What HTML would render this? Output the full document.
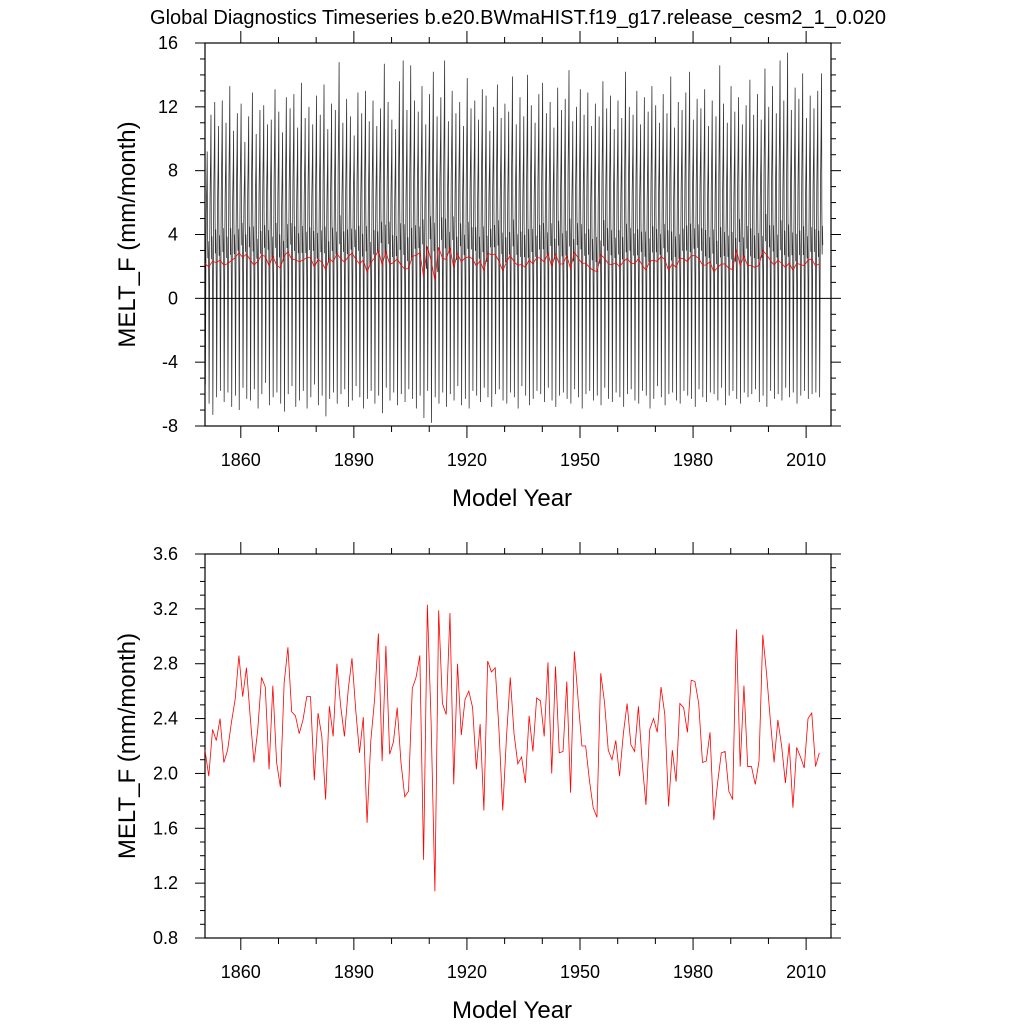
<!DOCTYPE html>
<html><head><meta charset="utf-8"><style>
body{margin:0;background:#fff;width:1024px;height:1024px;overflow:hidden}
svg{display:block;font-family:"Liberation Sans",Arial,sans-serif}
</style></head><body>
<svg id="c" width="1024" height="1024" viewBox="0 0 1024 1024">
<text x="518" y="24" font-size="20" text-anchor="middle">Global Diagnostics Timeseries b.e20.BWmaHIST.f19_g17.release_cesm2_1_0.020</text>
<g id="topPanel"></g>
<g id="botPanel"></g>
</svg>
<script>
const annualMeans=[2.17,1.98,2.32,2.24,2.40,2.08,2.17,2.37,2.54,2.86,2.56,2.77,2.41,2.08,2.32,2.70,2.63,2.03,2.64,2.08,1.90,2.66,2.92,2.45,2.42,2.29,2.39,2.56,2.56,1.95,2.44,2.27,1.81,2.49,2.27,2.80,2.49,2.27,2.61,2.84,2.46,2.15,2.41,1.64,2.24,2.54,3.02,2.09,2.93,2.14,2.23,2.48,2.08,1.83,1.87,2.62,2.70,2.86,1.37,3.23,2.37,1.14,3.19,2.51,2.43,3.17,1.92,2.80,2.28,2.54,2.60,2.48,2.03,2.36,1.73,2.82,2.74,2.77,2.32,1.73,2.27,2.70,2.29,2.07,2.12,1.93,2.42,2.16,2.55,2.53,2.27,2.81,2.00,2.78,2.15,2.16,2.67,1.86,2.89,2.54,2.20,2.20,1.95,1.75,1.68,2.73,2.52,2.17,2.10,2.24,1.98,2.29,2.51,2.21,2.16,2.49,2.08,1.77,2.32,2.40,2.30,2.63,2.43,1.76,2.17,1.94,2.51,2.48,2.30,2.68,2.67,2.51,2.08,2.09,2.30,1.66,1.93,2.15,2.16,1.87,1.81,3.05,2.05,2.64,2.05,2.05,1.92,2.09,3.01,2.73,2.39,2.08,2.39,2.20,1.93,2.22,1.75,2.19,2.12,2.04,2.40,2.44,2.05,2.15];
const yearPeaks=[9.2,11.5,12.3,10.8,12.4,11.0,13.3,10.5,11.6,12.2,9.8,11.4,12.9,10.3,11.8,12.1,10.9,11.2,13.1,11.7,10.4,12.6,11.9,12.8,10.7,13.5,11.3,12.0,10.9,12.7,11.5,13.4,10.6,12.2,11.8,14.8,11.0,12.5,11.4,10.2,12.9,11.6,13.0,11.1,12.4,10.8,11.9,14.7,12.3,11.2,10.6,13.6,14.9,11.8,14.6,12.4,11.7,13.3,10.9,12.8,14.2,11.4,12.6,14.9,11.1,13.0,11.6,12.3,10.8,13.8,11.9,12.4,11.2,13.1,12.7,10.5,12.0,13.4,11.3,12.2,11.7,13.9,10.9,12.6,11.4,14.0,12.1,11.0,12.8,13.5,11.6,12.3,10.7,13.2,11.8,12.5,14.3,11.1,12.0,13.1,11.5,12.9,10.8,12.2,11.4,13.6,11.9,12.7,10.6,12.4,11.3,14.2,12.0,11.5,13.0,10.9,12.6,11.7,13.3,12.1,11.0,12.8,11.6,13.9,10.7,12.3,11.8,12.9,14.2,11.2,12.5,11.9,13.1,10.8,12.4,11.4,14.6,12.2,11.0,13.3,11.7,12.6,10.9,12.1,13.7,11.5,12.8,11.2,14.4,12.0,13.3,11.6,14.9,12.4,15.4,11.8,13.2,12.5,14.1,11.3,12.7,11.9,13.0,14.1,11.6,12.4];
const yearTroughs=[-5.4,-6.6,-7.3,-6.2,-5.8,-6.5,-5.9,-6.8,-6.1,-7.0,-5.6,-6.3,-6.4,-5.7,-6.9,-6.0,-5.3,-6.7,-6.2,-5.9,-6.6,-7.1,-6.0,-5.5,-6.8,-6.4,-5.8,-6.9,-6.2,-5.4,-6.7,-6.1,-7.4,-6.3,-5.9,-6.6,-6.0,-5.7,-6.8,-6.4,-5.5,-6.2,-6.9,-6.3,-5.8,-6.6,-6.1,-7.2,-5.6,-6.4,-5.9,-6.7,-6.0,-6.5,-5.7,-6.3,-6.9,-6.1,-7.5,-5.8,-7.8,-6.2,-6.6,-5.9,-6.8,-6.0,-6.4,-5.5,-6.7,-6.3,-6.9,-5.8,-6.1,-6.5,-5.6,-6.2,-6.8,-6.0,-5.7,-6.4,-6.6,-5.9,-6.2,-6.9,-5.5,-6.1,-6.7,-6.3,-5.8,-6.0,-6.5,-5.6,-6.4,-6.8,-6.1,-5.9,-6.3,-6.6,-5.7,-6.2,-6.9,-6.0,-5.8,-6.4,-6.1,-6.7,-5.6,-6.3,-6.5,-5.9,-6.2,-6.8,-6.0,-5.7,-6.4,-6.6,-5.8,-6.1,-6.9,-6.3,-5.5,-6.2,-6.7,-6.0,-5.9,-6.4,-6.6,-5.8,-6.1,-6.3,-6.8,-5.7,-6.2,-6.5,-5.9,-6.0,-6.4,-5.6,-6.7,-6.1,-5.8,-6.3,-6.6,-5.9,-6.2,-6.0,-5.7,-6.5,-6.1,-6.8,-5.8,-6.3,-6.0,-6.4,-5.6,-6.2,-5.9,-6.6,-6.1,-5.8,-6.3,-6.0,-5.9,-6.2,-5.7,-6.4,-6.0,-5.8];
const monthShape=[-0.15,-1.0,-0.5,0.15,0.45,0.6,0.75,1.0,0.3,0.05,0.2,0.1];
const xTicks=[1860,1890,1920,1950,1980,2010];
const topYTicks=[-8,-4,0,4,8,12,16];
const botYTicks=[0.8,1.2,1.6,2.0,2.4,2.8,3.2,3.6];
const startYear=1850.5, X0=205, X1=831, XMIN=1850.5, XMAX=2016.6;
const NS='http://www.w3.org/2000/svg';
function mk(p,t,a){const e=document.createElementNS(NS,t);for(const k in a)e.setAttribute(k,a[k]);p.appendChild(e);return e;}
const xs=v=>X0+(v-XMIN)/(XMAX-XMIN)*(X1-X0);
function panel(g,Y0,Y1,ymin,ymax,yt,minorStep,fmt){
  const ys=v=>Y1-(v-ymin)/(ymax-ymin)*(Y1-Y0);
  let r=mk(g,'rect',{x:X0,y:Y0,width:X1-X0,height:Y1-Y0,fill:'none',stroke:'#000','stroke-width':1.2});
  
  
  for(let y=1850;y<=2016;y+=10){if(y<XMIN)continue;const x=xs(y);const maj=(y-1860)%30===0;const L=maj?12:6;
    mk(g,'line',{x1:x,x2:x,y1:Y1,y2:Y1+L,stroke:'#000'});mk(g,'line',{x1:x,x2:x,y1:Y0,y2:Y0-L,stroke:'#000'});}
  xTicks.forEach(t=>{const tx=mk(g,'text',{x:xs(t),y:Y1+40,'font-size':18,'text-anchor':'middle'});tx.textContent=t;
    
    });
  const n=Math.round((ymax-ymin)/minorStep);
  for(let i=0;i<=n;i++){const v=ymin+i*minorStep;const y=ys(v);const maj=yt.some(t=>Math.abs(t-v)<1e-6);const L=maj?10:5;
    mk(g,'line',{x1:X0-L,x2:X0,y1:y,y2:y,stroke:'#000'});mk(g,'line',{x1:X1,x2:X1+L,y1:y,y2:y,stroke:'#000'});}
  yt.forEach(t=>{const tx=mk(g,'text',{x:X0-27,y:ys(t)+6,'font-size':18,'text-anchor':'end'});tx.textContent=fmt(t);
    
    });
  const xl=mk(g,'text',{x:(X0+X1)/2-6,y:Y1+80,'font-size':24,'text-anchor':'middle'});xl.textContent='Model Year';
  
  
  const cy=(Y0+Y1)/2;const yl=mk(g,'text',{x:X0-70,y:cy,'font-size':24,'text-anchor':'middle',transform:`rotate(-90 ${X0-70} ${cy})`});
  yl.textContent='MELT_F (mm/month)';
  
  
  return ys;
}
const gTop=document.getElementById('topPanel'), gBot=document.getElementById('botPanel');
const ysT=panel(gTop,43,426,-8,16,topYTicks,1,t=>t);
let pts=[];
annualMeans.forEach((m,i)=>{
  const pk=yearPeaks[i%yearPeaks.length], tr=yearTroughs[i%yearTroughs.length];
  for(let k=0;k<12;k++){const s=monthShape[k];
    let v=s>=0? m+s*(pk-m) : m+(-s)*(tr-m);
    pts.push(xs(startYear+i+k/12).toFixed(2)+','+ysT(v).toFixed(2));}
});
let pl=mk(gTop,'polyline',{points:pts.join(' '),fill:'none',stroke:'#000','stroke-width':0.8,'stroke-opacity':0.8});


let z=mk(gTop,'line',{x1:X0,x2:X1,y1:ysT(0),y2:ysT(0),stroke:'#000','stroke-width':1});


let pa=annualMeans.map((v,i)=>xs(startYear+i).toFixed(2)+','+ysT(v).toFixed(2)).join(' ');
let ra=mk(gTop,'polyline',{points:pa,fill:'none',stroke:'#f00','stroke-width':0.8});


const ysB=panel(gBot,554,938,0.8,3.6,botYTicks,0.1,t=>t.toFixed(1));
let pb=annualMeans.map((v,i)=>xs(startYear+i).toFixed(2)+','+ysB(v).toFixed(2)).join(' ');
let rb=mk(gBot,'polyline',{points:pb,fill:'none',stroke:'#f00','stroke-width':0.8});


</script>
</body></html>
